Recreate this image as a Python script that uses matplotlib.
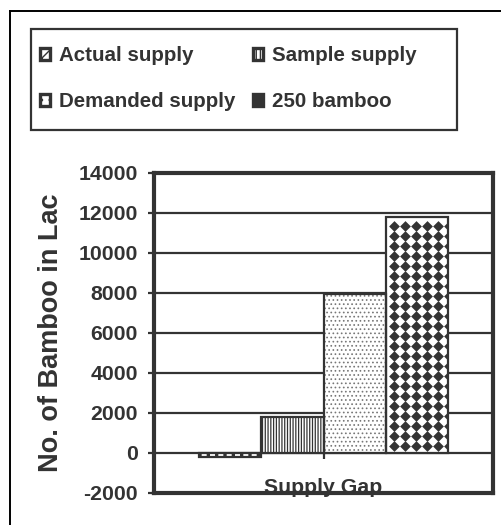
import numpy as np
import matplotlib
matplotlib.use('Agg')
import matplotlib.pyplot as plt
from matplotlib.lines import Line2D
from matplotlib.patches import Rectangle

plt.rcParams['font.family'] = ['Liberation Sans', 'DejaVu Sans']
plt.rcParams['font.weight'] = 'bold'
plt.rcParams['axes.unicode_minus'] = False

# supply figures, in lakh bamboo
series = ['Actual supply', 'Sample supply', 'Demanded supply', '250 bamboo']
values = [-200, 1800, 7950, 11800]
category = 'Supply Gap'
yticks = [-2000, 0, 2000, 4000, 6000, 8000, 10000, 12000, 14000]

dark = '#333333'
W, H = 502, 525
fig = plt.figure(figsize=(W / 100, H / 100), dpi=100)
ax = fig.add_axes([154 / W, 32 / H, 339 / W, 320 / H])
px_x = 1.0 / 339          # one pixel in x data units
px_y = 16000 / 320        # one pixel in y data units

bar_w = 0.183
offsets = (np.arange(len(values)) - (len(values) - 1) / 2) * bar_w

# fill styles: face colour, hatch colour, hatch, hatch linewidth
styles = [
    (dark, 'white', '||', 3.6),
    ('white', dark, '||||||', 0.9),
    ('white', '#777777', '....', 0.7),
    ('white', 'white', None, 0.0),
]

bars = []
for off, v, (fc, hc, hatch, hlw) in zip(offsets, values, styles):
    b = ax.bar(off, v, width=bar_w, color=fc, edgecolor=hc, hatch=hatch,
               linewidth=0, zorder=2)[0]
    if hatch and hasattr(b, 'set_hatch_linewidth'):
        b.set_hatch_linewidth(hlw)
    bars.append(b)

# diamond texture for the last bar
b = bars[3]
x0 = b.get_x()
cols = x0 + (8 + 11 * np.arange(6)) * px_x
rows = np.arange(values[3] - 9 * px_y, 0, -10 * px_y)
gx, gy = np.meshgrid(cols, rows)
dots = ax.scatter(gx.ravel(), gy.ravel(), marker='D', s=30, color=dark,
                  linewidths=0, zorder=2.05)
dots.set_clip_path(b)

for off, v in zip(offsets, values):
    ax.bar(off, v, width=bar_w, fill=False, edgecolor=dark, linewidth=1.6, zorder=2.1)

ax.set_xlim(-0.5, 0.5)
ax.set_ylim(yticks[0], yticks[-1])
ax.set_yticks(yticks)
ax.set_xticks([])
ax.yaxis.grid(True, color=dark, linewidth=1.6)
ax.set_axisbelow(True)
for s in ax.spines.values():
    s.set_linewidth(3)
    s.set_color(dark)
    s.set_zorder(5)
ax.tick_params(axis='y', direction='out', length=4.5, width=1.6, color=dark,
               pad=7, labelsize=15.3, labelcolor=dark)
ax.set_ylabel('No. of Bamboo in Lac', fontsize=19.5, fontweight='bold', color=dark)
ax.yaxis.set_label_coords(-0.265, 0.5)

# category axis crosses at zero with one tick mark
sec = ax.secondary_xaxis(0, transform=ax.transData)
sec.set_xticks([0])
sec.tick_params(length=4.5, width=1.6, color=dark, labelbottom=False)
sec.spines['bottom'].set_visible(False)

ax.text(0.5, 0.0, category, transform=ax.transAxes, ha='center', va='baseline',
        fontsize=15.3, color=dark, zorder=1)

# legend swatches
proxies = [
    Rectangle((0, 0), 1, 1, facecolor='white', edgecolor=dark, hatch='xx', linewidth=2.4),
    Rectangle((0, 0), 1, 1, facecolor='white', edgecolor=dark, hatch='||||', linewidth=2.4),
    Rectangle((0, 0), 1, 1, facecolor='white', edgecolor=dark, hatch='..', linewidth=2.4),
    Rectangle((0, 0), 1, 1, facecolor=dark, edgecolor=dark, linewidth=2.4),
]
order = [0, 2, 1, 3]
fig.legend([proxies[i] for i in order], [series[i] for i in order],
           loc='upper left', ncol=2, frameon=False,
           bbox_to_anchor=(40 / W, 1 - 46 / H), borderaxespad=0, borderpad=0,
           prop={'size': 14.8, 'weight': 'bold'}, labelcolor=dark,
           handlelength=0.5, handleheight=0.5, handletextpad=0.42,
           labelspacing=1.33, columnspacing=0.85)
fig.patches.append(Rectangle((31 / W, 1 - 130 / H), 426 / W, 101 / H,
                             transform=fig.transFigure, fill=False,
                             edgecolor=dark, linewidth=1.6))

# page frame: left and top edges only
fig.add_artist(Line2D([9.5 / W, 9.5 / W], [0, 1 - 11 / H], color='black', linewidth=1.4))
fig.add_artist(Line2D([9.5 / W, 1], [1 - 11 / H, 1 - 11 / H], color='black', linewidth=1.4))

fig.savefig('out.png', dpi=100)
